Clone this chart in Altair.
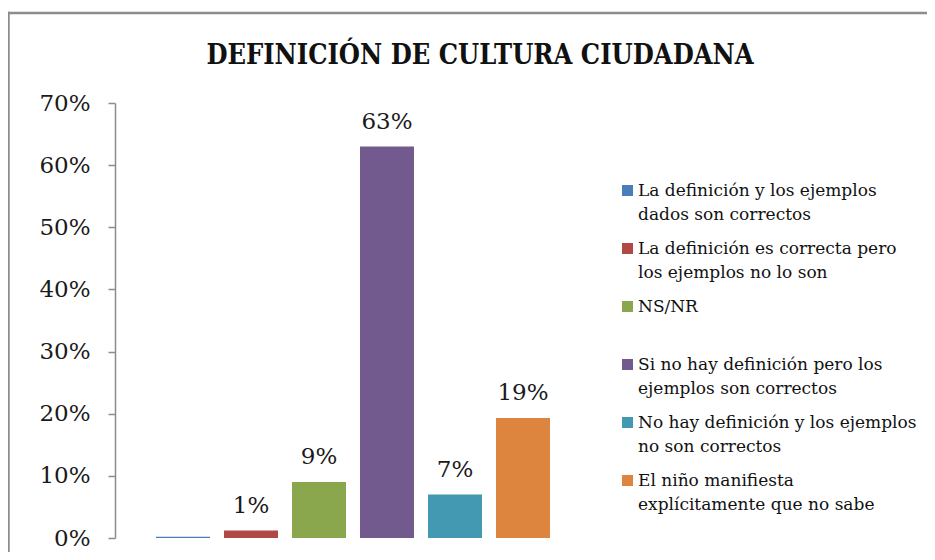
import altair as alt
import pandas as pd

categories = [
    "La definición y los ejemplos\ndados son correctos",
    "La definición es correcta pero\nlos ejemplos no lo son",
    "NS/NR",
    "Si no hay definición pero los\nejemplos son correctos",
    "No hay definición y los ejemplos\nno son correctos",
    "El niño manifiesta\nexplícitamente que no sabe",
]
values = [0.002, 0.012, 0.09, 0.63, 0.07, 0.193]
labels = ["", "1%", "9%", "63%", "7%", "19%"]
colors = ["#4a7ebb", "#b04845", "#8ba74d", "#725a8f", "#4399b1", "#dd843e"]
y_ticks = [0, 0.1, 0.2, 0.3, 0.4, 0.5, 0.6, 0.7]

df = pd.DataFrame({"cat": categories, "val": values, "lab": labels})

SERIF = "DejaVu Serif"

x = alt.X("cat:N", sort=categories, axis=None,
          scale=alt.Scale(paddingInner=0.206, paddingOuter=0.603))
y = alt.Y("val:Q", scale=alt.Scale(domain=[0, 0.7], nice=False),
          axis=alt.Axis(values=y_ticks, format=".0%", title=None, grid=False,
                        domainColor="#8c8c8c", tickColor="#8c8c8c", tickSize=7,
                        domainWidth=1.5, tickWidth=1.5,
                        labelFont=SERIF, labelFontSize=23, labelColor="#1a1a1a",
                        labelPadding=18))

bars = alt.Chart(df).mark_bar().encode(
    x=x, y=y,
    color=alt.Color("cat:N", sort=categories,
                    scale=alt.Scale(domain=categories, range=colors),
                    legend=alt.Legend(orient="none", legendX=504, legendY=79,
                                      title=None, symbolType="square",
                                      symbolSize=121, symbolStrokeWidth=0,
                                      labelFont=SERIF, labelFontSize=17,
                                      labelColor="#111111", labelOffset=2,
                                      labelLimit=400, rowPadding=16,
                                      gridAlign="all", padding=0,
                                      labelExpr="split(datum.label, '\\n')")),
)

text = alt.Chart(df).mark_text(baseline="alphabetic", dy=-18, font=SERIF,
                               fontSize=23, color="#1a1a1a").encode(
    x=x, y=alt.Y("val:Q"), text="lab:N")

border_df = pd.DataFrame({"k": [1]})
border_top = alt.Chart(border_df).mark_rule(stroke="#8c8c8c", strokeWidth=2.5).encode(
    x=alt.value(-107.75), x2=alt.value(815), y=alt.value(-90))
border_left = alt.Chart(border_df).mark_rule(stroke="#8c8c8c", strokeWidth=2.5).encode(
    x=alt.value(-106.5), y=alt.value(-91.25), y2=alt.value(455))

chart = alt.layer(border_top, border_left, bars, text).properties(
    width=476, height=435,
    autosize=alt.AutoSizeParams(type="none"),
    padding={"left": 107, "top": 95, "right": 336, "bottom": 14},
    title=alt.TitleParams("DEFINICIÓN DE CULTURA CIUDADANA",
                          font="DejaVu Serif Condensed", fontSize=27,
                          fontWeight="bold", color="#111111",
                          anchor="middle", frame="group", dx=127,
                          baseline="alphabetic", offset=0, dy=80),
).configure(
    background="white",
    style={"guide-label": {"lineHeight": 24.5}},
).configure_view(strokeWidth=0)

chart.save("out.html", embed_options={"renderer": "svg", "actions": False})
